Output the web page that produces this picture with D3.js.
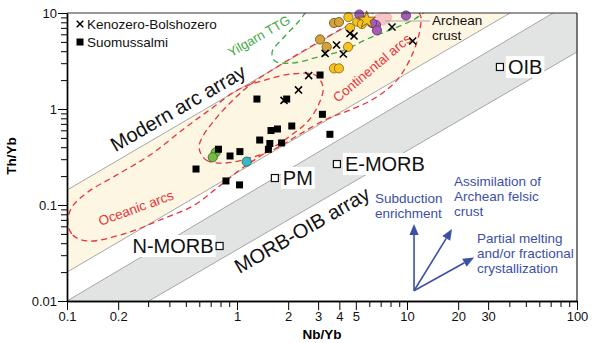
<!DOCTYPE html>
<html>
<head>
<meta charset="utf-8">
<script src="https://cdn.jsdelivr.net/npm/d3@7"></script>
<style>
  body { margin: 0; background: #fff; }
  svg { display: block; font-family: "Liberation Sans", Arial, sans-serif; }
</style>
</head>
<body>
<svg id="chart" width="595" height="343"></svg>
<script>
// ---- Axis ticks ----
const xTickLabels = [0.1, 0.2, 1, 2, 3, 4, 5, 10, 20, 30, 100];
const xMinorTicks = [0.3, 0.4, 0.5, 0.6, 0.7, 0.8, 0.9, 6, 7, 8, 9, 40, 50, 60, 70, 80, 90];
const yTickLabels = [0.01, 0.1, 1, 10];
const yMinorTicks = [0.02, 0.03, 0.04, 0.05, 0.06, 0.07, 0.08, 0.09,
                     0.2, 0.3, 0.4, 0.5, 0.6, 0.7, 0.8, 0.9,
                     2, 3, 4, 5, 6, 7, 8, 9];

// ---- Samples: [Nb/Yb, Th/Yb] ----
const suomussalmi = [[1.31, 1.27], [1.96, 1.27], [3.08, 2.26], [3.18, 0.88], [3.52, 0.545],
  [2.10, 0.665], [1.585, 0.597], [1.73, 0.619], [1.36, 0.475], [1.56, 0.437], [1.83, 0.443],
  [1.53, 0.380], [0.778, 0.381], [0.910, 0.324], [1.04, 0.360], [0.574, 0.237],
  [0.861, 0.178], [1.035, 0.162]];
const kenozero = [[2.64, 2.23], [2.30, 1.58], [1.89, 1.23], [3.30, 3.79], [3.85, 4.64],
  [4.22, 3.74], [4.62, 6.11], [4.88, 5.76], [8.16, 7.15], [10.8, 5.11]];
const goldSamples = [[3.08, 5.30], [3.72, 7.87], [3.98, 8.05], [3.37, 4.43]];
const yellowSamples = [[3.72, 2.65], [3.98, 2.65], [4.62, 6.98], [4.52, 9.08], [5.10, 8.12],
  [4.50, 4.43], [5.43, 7.67]];
const purpleSamples = [[5.24, 9.64], [6.57, 7.50], [6.66, 6.58], [6.22, 7.87], [9.86, 9.42]];
const greenSamples = [[0.75, 0.354], [0.72, 0.314]];
const cyanSamples = [[1.14, 0.283]];
const starSample = [5.79, 8.45];
const archeanCrust = [7.13, 8.66];

// ---- Reference compositions ----
const refNames = ["N-MORB", "E-MORB", "PM", "OIB"];
const refNb = [0.79, 3.87, 1.67, 35.2];
const refTh = [0.0374, 0.267, 0.191, 2.74];

// ---- Array boundaries ----
const arcArrayUpper = [[0.1, 0.143], [6.0, 10]];
const arcArrayLower = [[0.1, 0.02], [40.4, 10]];
const morbUpper = [[0.1, 0.01], [72.3, 10]];
const morbLower = [[0.303, 0.01], [100, 3.93]];

// ---- Fields ----
const oceanicArcs = [[0.101, 0.0665], [0.108, 0.0487], [0.133, 0.0422], [0.225, 0.0511],
  [0.352, 0.0698], [0.551, 0.0977], [0.762, 0.150], [1.04, 0.232], [1.40, 0.332],
  [2.05, 0.523], [2.62, 0.750], [3.03, 1.13], [3.21, 1.69], [2.88, 2.26], [2.11, 2.32],
  [1.46, 2.00], [1.01, 1.58], [0.713, 1.02], [0.494, 0.634], [0.308, 0.332],
  [0.191, 0.200], [0.133, 0.137], [0.107, 0.0953]];
const continentalArcs = [[0.598, 0.393], [0.658, 0.294], [0.861, 0.274], [1.19, 0.309],
  [1.67, 0.383], [2.35, 0.549], [3.38, 0.787], [4.62, 0.976], [6.49, 1.30], [8.73, 2.00],
  [10.7, 3.65], [11.9, 6.65], [11.9, 9.77], [9.73, 11.8], [6.49, 10.2], [4.32, 7.15],
  [2.69, 4.43], [1.79, 2.87], [1.19, 1.78], [0.885, 1.10], [0.723, 0.733], [0.631, 0.523]];
const yilgarnTTG = [[2.76, 12.4], [2.29, 8.05], [1.87, 5.49], [1.61, 3.93], [1.67, 3.16],
  [2.11, 3.01], [2.99, 3.48], [4.32, 4.12], [5.66, 5.23], [8.5, 6.98], [11.1, 8.66],
  [13.6, 11.3]];

// ---- Petrogenetic vectors ----
const vecOrigin = [11.0, 0.0128];
const vecTips = [[11.0, 0.0634], [18.4, 0.0562], [24.8, 0.0284]];
const vecLabels = [["Subduction", "enrichment"],
                   ["Assimilation of", "Archean felsic", "crust"],
                   ["Partial melting", "and/or fractional", "crystallization"]];

// ---- Layout ----
const W = 595, H = 343;
const margin = { top: 13, right: 18, bottom: 42, left: 67 };
const x = d3.scaleLog().domain([0.1, 100]).range([margin.left, W - margin.right]);
const y = d3.scaleLog().domain([0.01, 10]).range([H - margin.bottom, margin.top]);
const [x0, x1] = x.range(), [y0, y1] = y.range();

const svg = d3.select("#chart");
svg.append("defs").append("clipPath").attr("id", "plot")
  .append("rect").attr("x", x0).attr("y", y1).attr("width", x1 - x0).attr("height", y0 - y1);

const plot = svg.append("g").attr("clip-path", "url(#plot)");
const toPath = pts => "M" + pts.map(p => x(p[0]) + "," + y(p[1])).join("L") + "Z";

// Modern arc array band
plot.append("path")
  .attr("d", toPath([arcArrayUpper[0], arcArrayUpper[1], arcArrayLower[1], arcArrayLower[0]]))
  .attr("fill", "#fdf6e2");
// MORB-OIB array band
plot.append("path")
  .attr("d", toPath([morbUpper[0], morbUpper[1], [x.domain()[1], y.domain()[1]], morbLower[1], morbLower[0]]))
  .attr("fill", "#e2e3e3");

[arcArrayUpper, arcArrayLower, morbUpper, morbLower].forEach(l => {
  plot.append("line")
    .attr("x1", x(l[0][0])).attr("y1", y(l[0][1]))
    .attr("x2", x(l[1][0])).attr("y2", y(l[1][1]))
    .attr("stroke", "#9c9c9c").attr("stroke-width", 0.9);
});

// Dashed fields
const closedCurve = d3.line().x(d => x(d[0])).y(d => y(d[1])).curve(d3.curveCatmullRomClosed);
const openCurve = d3.line().x(d => x(d[0])).y(d => y(d[1])).curve(d3.curveCatmullRom);
plot.append("path").attr("d", closedCurve(oceanicArcs))
  .attr("fill", "none").attr("stroke", "#e8343a").attr("stroke-width", 1.3).attr("stroke-dasharray", "6,4");
plot.append("path").attr("d", closedCurve(continentalArcs))
  .attr("fill", "none").attr("stroke", "#e8343a").attr("stroke-width", 1.3).attr("stroke-dasharray", "6,4");
plot.append("path").attr("d", openCurve(yilgarnTTG))
  .attr("fill", "none").attr("stroke", "#3fa93f").attr("stroke-width", 1.3).attr("stroke-dasharray", "6,4");

// Field labels
const fieldLabel = (txt, cx, cy, rot, color, size) =>
  svg.append("text").attr("transform", `translate(${cx},${cy}) rotate(${rot})`)
    .attr("text-anchor", "middle").attr("dy", "0.35em")
    .attr("fill", color).attr("font-size", size).text(txt);

fieldLabel("Modern arc array", 178, 108, -30, "#111", 20);
fieldLabel("MORB-OIB array", 302, 230, -30, "#111", 20);
fieldLabel("Oceanic arcs", 136, 208, -20, "#e8343a", 13.5);
fieldLabel("Continental arcs", 372, 68, -40, "#e8343a", 13.5);
fieldLabel("Yilgarn TTG", 259, 36, -30, "#3fa93f", 13);

// Archean crust ellipse and leader
const acx = x(archeanCrust[0]), acy = y(archeanCrust[1]);
svg.append("ellipse").attr("cx", acx).attr("cy", acy).attr("rx", 10).attr("ry", 6)
  .attr("transform", `rotate(-15,${acx},${acy})`)
  .attr("fill", "#f6c3c6").attr("stroke", "#e7a5ab").attr("stroke-width", 0.6);
svg.append("line").attr("x1", acx + 3).attr("y1", acy + 2).attr("x2", 430).attr("y2", acy + 2)
  .attr("stroke", "#a0a0a0").attr("stroke-width", 0.9);
const ac = svg.append("text").attr("x", 432).attr("y", 25).attr("font-size", 13.5).attr("fill", "#111");
ac.append("tspan").attr("x", 432).text("Archean");
ac.append("tspan").attr("x", 432).attr("dy", 15).text("crust");

// Sample circles
const circles = (data, fill, stroke) =>
  svg.append("g").selectAll("circle").data(data).join("circle")
    .attr("cx", d => x(d[0])).attr("cy", d => y(d[1])).attr("r", 4.6)
    .attr("fill", fill).attr("stroke", stroke).attr("stroke-width", 0.8);
circles(goldSamples, "#d8a23a", "#6b4f14");
circles(yellowSamples, "#f6c21e", "#7d6212");
circles(purpleSamples, "#a35db5", "#5e2f6d");
circles(greenSamples, "#77bb46", "#35621c");
circles(cyanSamples, "#3bb8c6", "#1c5c66");

// Suomussalmi squares
svg.append("g").selectAll("rect").data(suomussalmi).join("rect")
  .attr("x", d => x(d[0]) - 3.5).attr("y", d => y(d[1]) - 3.5)
  .attr("width", 7).attr("height", 7).attr("fill", "#000");

// Star
svg.append("path")
  .attr("d", d3.symbol(d3.symbolStar).size(95)())
  .attr("transform", `translate(${x(starSample[0])},${y(starSample[1])})`)
  .attr("fill", "#f7c41f").attr("stroke", "#6e5200").attr("stroke-width", 0.8);

// Kenozero-Bolshozero crosses
const cross = d3.symbol(d3.symbolTimes).size(34);
svg.append("g").selectAll("path").data(kenozero).join("path")
  .attr("d", cross()).attr("transform", d => `translate(${x(d[0])},${y(d[1])})`)
  .attr("fill", "none").attr("stroke", "#000").attr("stroke-width", 1.6);

// Reference compositions
refNames.forEach((name, i) => {
  const px = x(refNb[i]), py = y(refTh[i]);
  const left = name === "N-MORB";
  const t = svg.append("text")
    .attr("x", left ? px - 6 : px + 8).attr("y", py).attr("dy", "0.35em")
    .attr("text-anchor", left ? "end" : "start")
    .attr("font-size", 20).attr("fill", "#111").text(name);
  const b = t.node().getBBox();
  svg.insert("rect", () => t.node())
    .attr("x", b.x - 2).attr("y", b.y).attr("width", b.width + 4).attr("height", b.height)
    .attr("fill", "#fff");
  svg.append("rect").attr("x", px - 3.5).attr("y", py - 3.5).attr("width", 7).attr("height", 7)
    .attr("fill", "#fff").attr("stroke", "#111").attr("stroke-width", 1.2);
});

// Vectors
const blue = "#3c50a6";
const ox = x(vecOrigin[0]), oy = y(vecOrigin[1]);
vecTips.forEach(v => {
  const tx = x(v[0]), ty = y(v[1]);
  const a = Math.atan2(ty - oy, tx - ox);
  const hl = 11, hw = 4.6;
  const bx = tx - hl * Math.cos(a), by = ty - hl * Math.sin(a);
  svg.append("line").attr("x1", ox).attr("y1", oy).attr("x2", bx).attr("y2", by)
    .attr("stroke", blue).attr("stroke-width", 1.6);
  svg.append("path")
    .attr("d", `M${tx},${ty}L${bx + hw * Math.sin(a)},${by - hw * Math.cos(a)}L${bx - hw * Math.sin(a)},${by + hw * Math.cos(a)}Z`)
    .attr("fill", blue);
});
const vecLabelPos = [[-39, -21], [2, -43], [3, -14.5]];
vecLabels.forEach((lines, i) => {
  const tx = x(vecTips[i][0]) + vecLabelPos[i][0], ty = y(vecTips[i][1]) + vecLabelPos[i][1];
  const t = svg.append("text").attr("y", ty).attr("font-size", 13.5).attr("fill", blue);
  lines.forEach((s, j) => t.append("tspan").attr("x", tx).attr("dy", j ? 15 : 0).text(s));
});

// Frame
svg.append("line").attr("x1", x0).attr("x2", x1).attr("y1", y1).attr("y2", y1)
  .attr("stroke", "#333").attr("stroke-width", 1.2);
svg.append("line").attr("x1", x1).attr("x2", x1).attr("y1", y1).attr("y2", y0)
  .attr("stroke", "#333").attr("stroke-width", 1.3);

// Axes
const fmt = d => String(d);
const xMajor = svg.append("g").attr("transform", `translate(0,${y0})`)
  .call(d3.axisBottom(x).tickValues(xTickLabels).tickFormat(fmt).tickSize(9).tickSizeOuter(0));
const xMinor = svg.append("g").attr("transform", `translate(0,${y0})`)
  .call(d3.axisBottom(x).tickValues(xMinorTicks).tickFormat("").tickSize(6).tickSizeOuter(0));
const yMajor = svg.append("g").attr("transform", `translate(${x0},0)`)
  .call(d3.axisLeft(y).tickValues(yTickLabels).tickFormat(fmt).tickSize(9).tickSizeOuter(0));
const yMinor = svg.append("g").attr("transform", `translate(${x0},0)`)
  .call(d3.axisLeft(y).tickValues(yMinorTicks).tickFormat("").tickSize(6).tickSizeOuter(0));
[xMajor, xMinor, yMajor, yMinor].forEach(a => {
  a.select(".domain").attr("stroke", "#000").attr("stroke-width", 1.4);
  a.selectAll(".tick line").attr("stroke", "#000").attr("stroke-width", 1);
  a.selectAll("text").attr("font-size", 13).attr("fill", "#111")
    .attr("font-family", "Liberation Sans, Arial, sans-serif");
});
xMajor.selectAll("text").attr("dy", "0.8em").attr("y", 10);
yMajor.selectAll("text").attr("x", -10);

// Axis titles
svg.append("text").attr("x", 322).attr("y", 339).attr("text-anchor", "middle")
  .attr("font-size", 13.5).attr("font-weight", "bold").text("Nb/Yb");
svg.append("text").attr("transform", "translate(16,156) rotate(-90)").attr("text-anchor", "middle")
  .attr("font-size", 13.5).attr("font-weight", "bold").text("Th/Yb");

// Legend
const lg = svg.append("g");
lg.append("path").attr("d", d3.symbol(d3.symbolTimes).size(30)()).attr("transform", "translate(80,24)")
  .attr("stroke", "#000").attr("stroke-width", 1.5).attr("fill", "none");
lg.append("text").attr("x", 87).attr("y", 24).attr("dy", "0.35em").attr("font-size", 13.5).attr("fill", "#111")
  .text("Kenozero-Bolshozero");
lg.append("rect").attr("x", 76.5).attr("y", 38.5).attr("width", 7).attr("height", 7).attr("fill", "#000");
lg.append("text").attr("x", 87).attr("y", 42).attr("dy", "0.35em").attr("font-size", 13.5).attr("fill", "#111")
  .text("Suomussalmi");
</script>
</body>
</html>
